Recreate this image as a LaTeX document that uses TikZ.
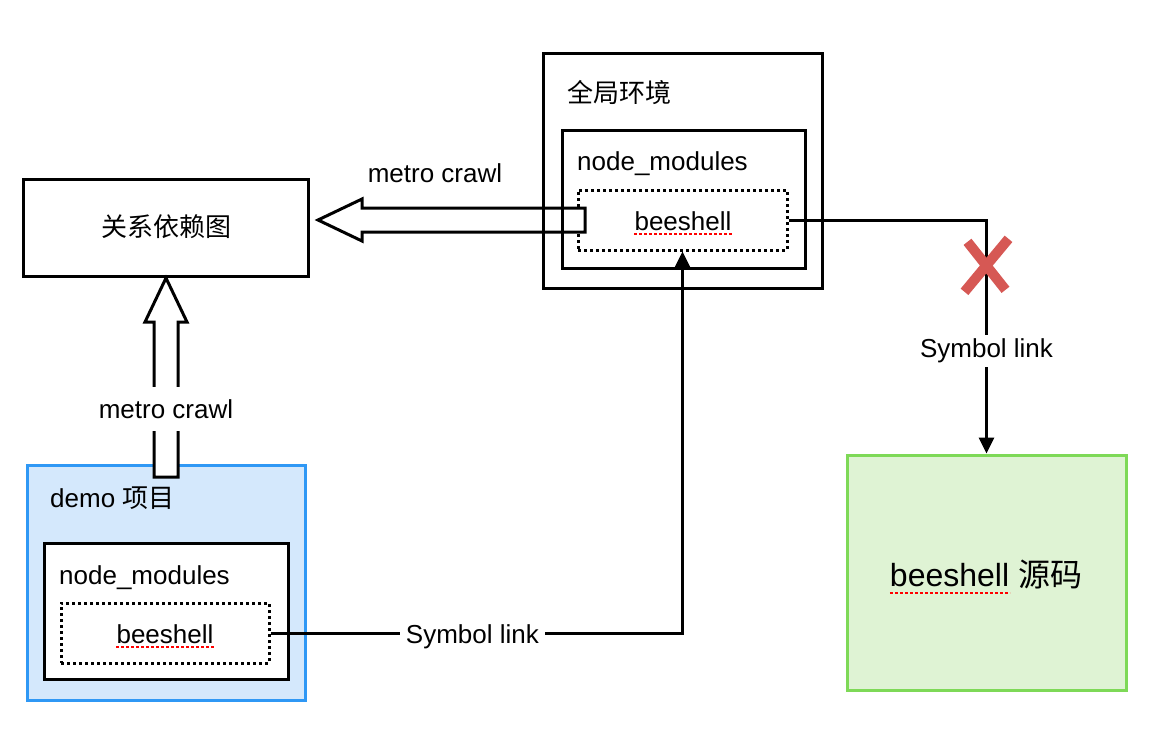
\documentclass[tikz,border=0pt]{standalone}
\usepackage{fontspec}
\setmainfont{Liberation Sans}
\newfontfamily\cjk{Noto Sans CJK SC}
\usetikzlibrary{arrows.meta}
\definecolor{demofill}{RGB}{212,232,252}
\definecolor{demoline}{RGB}{47,152,245}
\definecolor{srcfill}{RGB}{223,243,212}
\definecolor{srcline}{RGB}{126,217,87}
\definecolor{crossred}{RGB}{214,88,84}

\begin{document}
\begin{tikzpicture}[x=1pt,y=-1pt,
  box/.style={draw,line width=3pt,minimum width=#1},
  dotbox/.style={draw,line width=3pt,dash pattern=on 3pt off 3pt,minimum width=209pt,minimum height=60pt},
  txt/.style={inner sep=0pt,font=\fontsize{26}{30}\selectfont},
  lbl/.style={txt,fill=white,inner xsep=6pt,inner ysep=4pt},
  hollow/.style={draw,fill=white,line width=3pt,line join=miter},
  link/.style={line width=3pt,-{Triangle[width=15pt,length=16pt]}},
  squig/.style={draw=red,line width=1.8pt,dash pattern=on 3pt off 2pt}]
\useasboundingbox (0,0) rectangle (1154,736);

% colored boxes
\node[box=278pt,draw=demoline,fill=demofill,minimum height=235pt] (demo) at (166,582.5) {};
\node[box=279pt,draw=srcline,fill=srcfill,minimum height=235pt] (src) at (986.5,572.5) {};

% dotted beeshell boxes
\node[dotbox] (bee1) at (682.5,220) {};
\node[dotbox,minimum width=208pt] (bee2) at (165,633) {};

% metro crawl arrows
\draw[hollow] (585,208) -- (362,208) -- (362,199) -- (318,220) -- (362,241) -- (362,232) -- (585,232) -- cycle;
\draw[hollow] (154,477) -- (154,322) -- (145,322) -- (166,278) -- (187,322) -- (178,322) -- (178,477) -- cycle;

% solid boxes
\node[box=279pt,minimum height=235pt] (global) at (682.5,170.5) {};
\node[box=243pt,minimum height=138pt] (nm1) at (683.5,199) {};
\node[box=285pt,minimum height=97pt] (dep) at (165.5,227.5) {};
\node[box=244pt,minimum height=136pt,fill=white] (nm2) at (166,611) {};
\node[dotbox,minimum width=208pt] at (bee2) {};

% texts
\node[txt,anchor=west] (globaltxt) at (567,93) {\cjk 全局环境};
\node[txt,anchor=west] (nm1txt) at (577,164) {node\_modules};
\node[txt] (bee1txt) at (683,221) {beeshell};
\node[txt] (deptxt) at (166,227) {\cjk 关系依赖图};
\node[txt,anchor=west] (demotxt) at (50,498) {demo {\cjk 项目}};
\node[txt,anchor=west] (nm2txt) at (59,578) {node\_modules};
\node[txt] (bee2txt) at (165,634) {beeshell};
\node[txt,font=\fontsize{32}{36}\selectfont] (srctxt) at (986,575) {beeshell {\cjk 源码}};
\node[txt] (crawl1) at (435,173) {metro crawl};
\node[lbl,inner ysep=12pt] (crawl2) at (166,409) {metro crawl};

% spell-check underlines
\draw[squig] ([yshift=-3pt]bee1txt.south west) -- ([yshift=-3pt]bee1txt.south east);
\draw[squig] ([yshift=-3pt]bee2txt.south west) -- ([yshift=-3pt]bee2txt.south east);
\draw[squig] ([yshift=-3pt]srctxt.south west) -- ++(120,0);

% symbol links
\draw[link] (bee2.east) -| node[lbl,pos=0.245,yshift=-4pt] {Symbol link} (bee1.south);
\draw[link] (bee1.east) -| coordinate[pos=0.596] (xmark) node[lbl,pos=0.77,yshift=-5pt] {Symbol link} (src.north);
\draw[crossred,line width=10pt] ([shift={(-19,-23)}]xmark) -- ([shift={(19,25)}]xmark);
\draw[crossred,line width=10pt] ([shift={(22,-26)}]xmark) -- ([shift={(-22,27)}]xmark);
\end{tikzpicture}
\end{document}
